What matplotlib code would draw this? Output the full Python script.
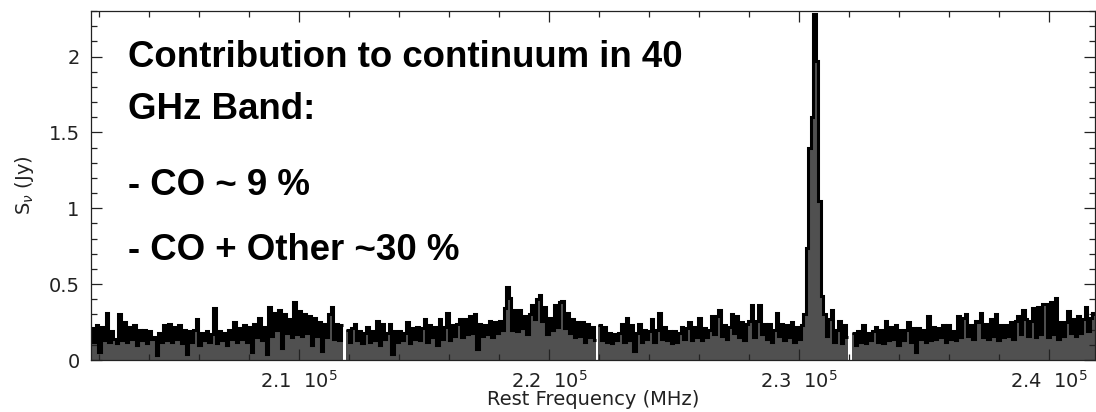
import matplotlib.pyplot as plt
import numpy as np
from matplotlib.ticker import MultipleLocator, FixedLocator, FuncFormatter

# Spectrum: four IF bands, 100 MHz channels, flux density in Jy
CHANNEL_MHZ = 100.0
BAND_STARTS = [201650.0, 211880.0, 221960.0, 232120.0]

BAND_1 = [
    0.21, 0.12, 0.23, 0.05, 0.22, 0.13, 0.31, 0.12, 0.19, 0.14,
    0.11, 0.30, 0.13, 0.25, 0.12, 0.22, 0.14, 0.23, 0.10, 0.20,
    0.13, 0.20, 0.11, 0.19, 0.14, 0.15, 0.03, 0.18, 0.12, 0.23,
    0.13, 0.24, 0.12, 0.22, 0.14, 0.23, 0.11, 0.20, 0.04, 0.19,
    0.12, 0.20, 0.27, 0.10, 0.18, 0.13, 0.19, 0.12, 0.17, 0.34,
    0.11, 0.19, 0.13, 0.18, 0.10, 0.20, 0.14, 0.25, 0.12, 0.21,
    0.14, 0.23, 0.12, 0.22, 0.05, 0.24, 0.15, 0.28, 0.13, 0.22,
    0.04, 0.35, 0.16, 0.31, 0.20, 0.33, 0.08, 0.30, 0.18, 0.27,
    0.15, 0.38, 0.17, 0.32, 0.16, 0.30, 0.18, 0.29, 0.10, 0.28,
    0.16, 0.25, 0.06, 0.24, 0.15, 0.30, 0.35, 0.14, 0.24, 0.13, 0.23,
]
BAND_2 = [
    0.20, 0.12, 0.21, 0.24, 0.13, 0.19, 0.11, 0.18, 0.22, 0.12,
    0.19, 0.13, 0.26, 0.10, 0.24, 0.14, 0.18, 0.24, 0.04, 0.19,
    0.12, 0.19, 0.13, 0.18, 0.25, 0.11, 0.21, 0.14, 0.22, 0.13,
    0.21, 0.27, 0.12, 0.23, 0.15, 0.22, 0.10, 0.27, 0.14, 0.22,
    0.31, 0.13, 0.23, 0.16, 0.24, 0.27, 0.15, 0.27, 0.17, 0.29,
    0.18, 0.30, 0.07, 0.24, 0.16, 0.23, 0.17, 0.26, 0.15, 0.25,
    0.18, 0.26, 0.20, 0.34, 0.48, 0.41, 0.20, 0.33, 0.19, 0.33,
    0.21, 0.29, 0.17, 0.30, 0.36, 0.27, 0.40, 0.43, 0.26, 0.35,
    0.17, 0.28, 0.20, 0.36, 0.22, 0.38, 0.39, 0.21, 0.31, 0.18,
    0.27, 0.15, 0.25, 0.16, 0.25, 0.12, 0.24, 0.15, 0.22, 0.13,
]
BAND_3 = [
    0.23, 0.13, 0.22, 0.12, 0.18, 0.11, 0.17, 0.13, 0.18, 0.24,
    0.12, 0.28, 0.13, 0.23, 0.06, 0.18, 0.24, 0.12, 0.20, 0.14,
    0.19, 0.27, 0.12, 0.20, 0.31, 0.14, 0.22, 0.13, 0.19, 0.11,
    0.19, 0.12, 0.18, 0.22, 0.14, 0.21, 0.25, 0.13, 0.22, 0.15,
    0.28, 0.13, 0.21, 0.15, 0.20, 0.29, 0.17, 0.29, 0.33, 0.16,
    0.23, 0.14, 0.22, 0.30, 0.18, 0.29, 0.15, 0.25, 0.13, 0.24,
    0.26, 0.36, 0.15, 0.26, 0.36, 0.17, 0.24, 0.14, 0.24, 0.12,
    0.20, 0.31, 0.16, 0.24, 0.13, 0.23, 0.15, 0.25, 0.12, 0.22,
    0.14, 0.23, 0.30, 0.74, 1.40, 1.60, 2.28, 1.97, 1.05, 0.42,
    0.30, 0.16, 0.27, 0.33, 0.12, 0.20, 0.26, 0.11, 0.23, 0.15,
]
BAND_4 = [
    0.18, 0.10, 0.19, 0.12, 0.23, 0.11, 0.18, 0.13, 0.19, 0.22,
    0.12, 0.20, 0.11, 0.26, 0.13, 0.22, 0.14, 0.23, 0.10, 0.20,
    0.13, 0.20, 0.25, 0.12, 0.21, 0.05, 0.21, 0.14, 0.20, 0.12,
    0.29, 0.13, 0.22, 0.14, 0.21, 0.15, 0.23, 0.12, 0.23, 0.14,
    0.19, 0.13, 0.29, 0.15, 0.28, 0.30, 0.16, 0.23, 0.14, 0.26,
    0.25, 0.31, 0.15, 0.24, 0.14, 0.27, 0.16, 0.30, 0.13, 0.23,
    0.15, 0.23, 0.16, 0.25, 0.14, 0.26, 0.29, 0.17, 0.33, 0.27,
    0.16, 0.26, 0.34, 0.15, 0.35, 0.17, 0.37, 0.37, 0.15, 0.38,
    0.17, 0.41, 0.14, 0.25, 0.16, 0.25, 0.32, 0.18, 0.27, 0.16,
    0.29, 0.18, 0.27, 0.35, 0.19, 0.28, 0.31, 0.30,
]
BANDS = [BAND_1, BAND_2, BAND_3, BAND_4]

X_RANGE = (201656, 241828)
Y_RANGE = (0.0, 2.30)
X_MAJOR = [210000, 220000, 230000, 240000]
X_LABELS = ["2.1  10$^5$", "2.2  10$^5$", "2.3  10$^5$", "2.4  10$^5$"]

NOTE_LINES = [
    "Contribution to continuum in 40",
    "GHz Band:",
    "- CO ~ 9 %",
    "- CO + Other ~30 %",
]
NOTE_BASELINES = [67, 119, 195, 260]   # pixels from top

W, H = 1096, 412
INK = "#222222"
AXIS_FS = 14

fig = plt.figure(figsize=(W / 100, H / 100), dpi=100, facecolor="white")
ax = fig.add_axes([90.7 / W, 52 / H, (1095 - 90.7) / W, (360 - 11) / H])

for start, flux in zip(BAND_STARTS, BANDS):
    edges = start + CHANNEL_MHZ * np.arange(len(flux) + 1)
    ax.stairs(flux, edges, fill=True, color="#505050", linewidth=0, zorder=1)
    ax.stairs(flux, edges, baseline=None, color="black", linewidth=2.2,
              joinstyle="miter", capstyle="butt", zorder=2)

ax.set_xlim(*X_RANGE)
ax.set_ylim(*Y_RANGE)

ax.xaxis.set_major_locator(FixedLocator(X_MAJOR))
ax.xaxis.set_minor_locator(MultipleLocator(2000))
ax.set_xticklabels(X_LABELS)
ax.yaxis.set_major_locator(MultipleLocator(0.5))
ax.yaxis.set_minor_locator(MultipleLocator(0.1))
ax.yaxis.set_major_formatter(FuncFormatter(lambda v, _: f"{v:g}"))
ax.tick_params(which="both", direction="in", top=True, right=True,
               color=INK, width=0.9)
ax.tick_params(which="major", length=8)
ax.tick_params(which="minor", length=4.3)
ax.tick_params(axis="x", pad=7, labelsize=AXIS_FS, labelcolor=INK)
ax.tick_params(axis="y", pad=8, labelsize=AXIS_FS, labelcolor=INK)
for spine in ax.spines.values():
    spine.set_linewidth(0.9)
    spine.set_color(INK)

ax.set_xlabel("Rest Frequency (MHz)", fontsize=AXIS_FS, color=INK, labelpad=-1)
ax.set_ylabel("S$_\\nu$ (Jy)", fontsize=AXIS_FS, color=INK, labelpad=9)

for text, base in zip(NOTE_LINES, NOTE_BASELINES):
    fig.text(128 / W, 1 - base / H, text, family="Liberation Sans",
             fontweight="bold", fontsize=26.4, color="black",
             ha="left", va="baseline")

fig.savefig("out.png", dpi=100, facecolor="white")
